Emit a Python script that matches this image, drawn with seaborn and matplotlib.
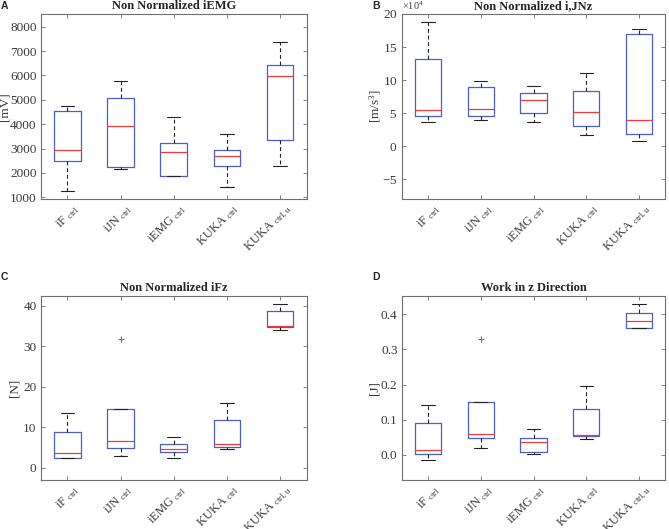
import matplotlib
matplotlib.use("Agg")
import matplotlib.pyplot as plt
import matplotlib.transforms as mtransforms
from matplotlib.ticker import ScalarFormatter
import pandas as pd
import seaborn as sns

# groups (x categories)
groups = ["iF_ctrl", "iJN_ctrl", "iEMG_ctrl", "KUKA_ctrl", "KUKA_ctrlu"]
tick_labels = [r"iF $_{\rm ctrl}$", r"iJN $_{\rm ctrl}$", r"iEMG $_{\rm ctrl}$",
               r"KUKA $_{\rm ctrl}$", r"KUKA $_{\rm ctrl,u}$"]

# five-number summaries: whisker low, q1, median, q3, whisker high
iemg_lo = [1270, 2160, 1880, 1405, 2300]
iemg_q1 = [2500, 2230, 1890, 2300, 3340]
iemg_med = [2950, 3930, 2840, 2700, 5980]
iemg_q3 = [4540, 5060, 3240, 2950, 6430]
iemg_hi = [4740, 5770, 4280, 3600, 7380]

ijnz_lo = [3.64e4, 3.9e4, 3.64e4, 1.72e4, 0.81e4]
ijnz_q1 = [4.5e4, 4.6e4, 5.0e4, 2.98e4, 1.82e4]
ijnz_med = [5.5e4, 5.6e4, 7.02e4, 5.15e4, 3.94e4]
ijnz_q3 = [13.13e4, 8.89e4, 8.03e4, 8.33e4, 16.97e4]
ijnz_hi = [18.8e4, 9.9e4, 9.14e4, 11.1e4, 17.68e4]

ifz_lo = [2.3, 2.8, 2.47, 4.53, 33.9]
ifz_q1 = [2.3, 4.77, 3.95, 5.19, 34.73]
ifz_med = [3.54, 6.5, 4.53, 5.84, 35.06]
ifz_q3 = [8.9, 14.57, 5.93, 11.85, 38.68]
ifz_hi = [13.4, 14.57, 7.49, 15.9, 40.33]
ifz_out = {"iJN_ctrl": [31.8]}

wz_lo = [-0.0152, 0.020, 0.002, 0.0437, 0.362]
wz_q1 = [0.003, 0.0466, 0.0086, 0.052, 0.362]
wz_med = [0.0124, 0.058, 0.036, 0.057, 0.380]
wz_q3 = [0.090, 0.150, 0.0485, 0.131, 0.405]
wz_hi = [0.1425, 0.150, 0.074, 0.195, 0.4295]
wz_out = {"iJN_ctrl": [0.3306]}

panels = [
    ("A", "Non Normalized iEMG", "[mV]", (iemg_lo, iemg_q1, iemg_med, iemg_q3, iemg_hi), {},
     (930, 8520), [1000, 2000, 3000, 4000, 5000, 6000, 7000, 8000]),
    ("B", "Non Normalized i,JNz", r"[m/s$^3$]", (ijnz_lo, ijnz_q1, ijnz_med, ijnz_q3, ijnz_hi), {},
     (-8e4, 20e4), [-5e4, 0, 5e4, 10e4, 15e4, 20e4]),
    ("C", "Non Normalized iFz", "[N]", (ifz_lo, ifz_q1, ifz_med, ifz_q3, ifz_hi), ifz_out,
     (-3.05, 42.5), [0, 10, 20, 30, 40]),
    ("D", "Work in z Direction", "[J]", (wz_lo, wz_q1, wz_med, wz_q3, wz_hi), wz_out,
     (-0.072, 0.453), [0, 0.1, 0.2, 0.3, 0.4]),
]

sns.set_style("white")
plt.rcParams["font.family"] = ["Liberation Serif", "DejaVu Serif"]
plt.rcParams["mathtext.fontset"] = "custom"
plt.rcParams["mathtext.rm"] = "Liberation Serif"
plt.rcParams["mathtext.it"] = "Liberation Serif:italic"

W, H = 669, 529
fig = plt.figure(figsize=(W / 100, H / 100), dpi=100)

# axes boxes in pixels: left, top, right, bottom
boxes = [(40.7, 14, 306.7, 199), (401.7, 14, 665.3, 199),
         (40.7, 295.7, 306.7, 480), (401.7, 295.7, 665.3, 480)]
letters_xy = [(1, 6), (372, 6), (1, 276.5), (372, 276.5)]
# right edge (px) of each y label
ylabel_right = [11, 383, 20, 380]

frame_col = "#6e6e6e"
text_col = "#3a3a3a"
fs = 9.5

for (letter, title, ylabel, stats, outliers, ylim, yticks), (l, t, r, b), (lx, ly), yr in zip(
        panels, boxes, letters_xy, ylabel_right):
    ax = fig.add_axes([l / W, 1 - b / H, (r - l) / W, (b - t) / H])
    rows = []
    for i, g in enumerate(groups):
        for s in stats:
            rows.append({"group": g, "value": s[i]})
    df = pd.DataFrame(rows)
    sns.boxplot(data=df, x="group", y="value", order=groups, ax=ax, width=0.5, fill=False,
                whis=(0, 100), linewidth=0.9, showfliers=False,
                boxprops=dict(color="#4a5fc8", linewidth=0.9),
                medianprops=dict(color="#f03c3c", linewidth=0.9),
                whiskerprops=dict(color="#222222", linestyle=(0, (3.5, 2.5)), linewidth=0.8),
                capprops=dict(color="#222222", linewidth=0.8))
    for g, vals in outliers.items():
        ax.plot([groups.index(g)] * len(vals), vals, linestyle="none", marker="+",
                color="#f03c3c", markersize=5, markeredgewidth=0.8)

    ax.set_xlim(-0.5, len(groups) - 0.5)
    ax.set_ylim(*ylim)
    ax.set_yticks(yticks)
    ax.set_xticks(range(len(groups)))
    ax.set_xlabel("")
    ax.set_ylabel(ylabel, fontsize=fs, color=text_col)
    ax.yaxis.set_label_coords((yr - l) / (r - l), 0.5)
    ax.set_title(title, fontsize=9, fontweight="bold", pad=3.5)

    ax.tick_params(direction="in", length=3, width=0.6, colors=frame_col, labelcolor=text_col,
                   labelsize=fs, top=True, right=True, bottom=True, left=True, pad=3)
    for sp in ax.spines.values():
        sp.set_visible(True)
        sp.set_color(frame_col)
        sp.set_linewidth(0.8)

    # rotated MATLAB-style category labels, nudged right/down after tick_params
    ax.set_xticklabels(tick_labels, rotation=45, ha="right", va="center",
                       rotation_mode="anchor", fontsize=9, color=text_col)
    shift = mtransforms.ScaledTranslation(10 / 100, -4 / 100, fig.dpi_scale_trans)
    for lab in ax.get_xticklabels():
        lab.set_transform(lab.get_transform() + shift)

    if letter == "B":
        fmt = ScalarFormatter(useMathText=True)
        fmt.set_powerlimits((4, 4))
        ax.yaxis.set_major_formatter(fmt)
        ax.yaxis.get_offset_text().set_fontsize(7.5)
        ax.yaxis.get_offset_text().set_color(text_col)

    fig.text(lx / W, 1 - ly / H, letter, fontsize=7.5, fontweight="bold",
             family="Liberation Sans", ha="left", va="center")

fig.savefig("out.png", dpi=100)
